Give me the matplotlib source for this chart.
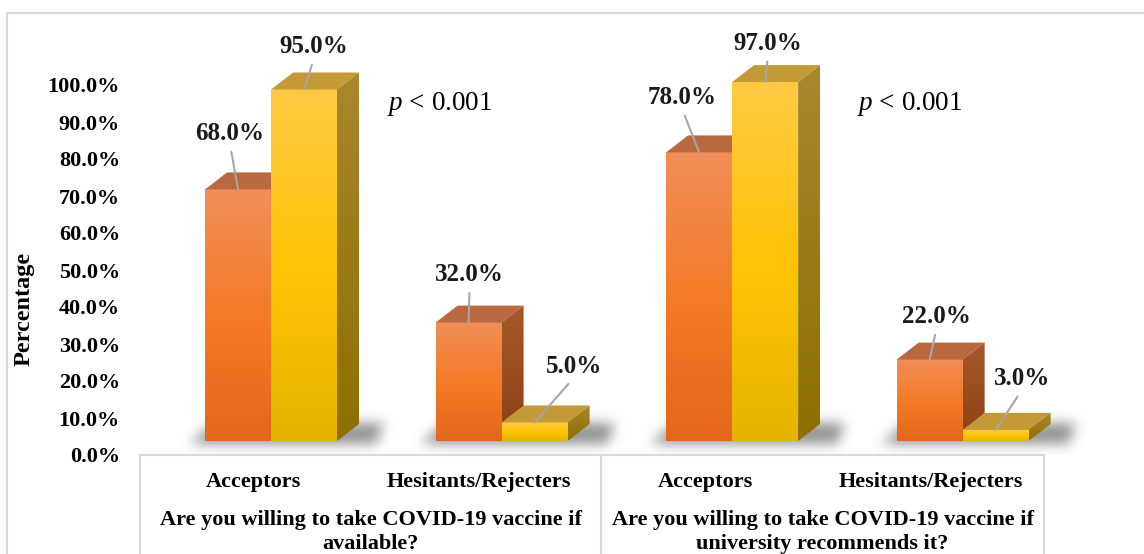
import numpy as np
import matplotlib
matplotlib.use("Agg")
import matplotlib.pyplot as plt
import matplotlib.transforms as mtransforms
from matplotlib.colors import LinearSegmentedColormap
from matplotlib.patches import Polygon, Rectangle

plt.rcParams["font.family"] = "Liberation Serif"
plt.rcParams["mathtext.fontset"] = "custom"
plt.rcParams["mathtext.it"] = "Liberation Serif:italic"
plt.rcParams["mathtext.rm"] = "Liberation Serif"

# ---- data -------------------------------------------------------------
categories = ["Acceptors", "Hesitants/Rejecters", "Acceptors", "Hesitants/Rejecters"]
questions = [
    "Are you willing to take COVID-19 vaccine if\navailable?",
    "Are you willing to take COVID-19 vaccine if\nuniversity recommends it?",
]
orange_vals = [68.0, 32.0, 78.0, 22.0]
yellow_vals = [95.0, 5.0, 97.0, 3.0]
p_text = [r"$\it{p}$ < 0.001", r"$\it{p}$ < 0.001"]
y_ticks = list(range(0, 101, 10))

# ---- layout (pixels -> data units) ------------------------------------
W, H, DPI = 1144, 554, 100
PX = 226.0          # pixels per category
PY = 3.7            # pixels per percent
BAR_W = 66 / PX
DEPTH_X = 22 / PX
DEPTH_Y = 17 / PY
FLOOR = 14 / PY
GROUP_SEPS = [-0.5, 1.54, 3.5]

# label offsets in pixels (right, down) from the bar's top edge
orange_lbl = [(-8, -56), (1, -48), (-17, -55), (7, -43)]
yellow_lbl = [(10, -43), (39, -56), (3, -39), (26, -51)]

orange_front = LinearSegmentedColormap.from_list(
    "of", [(0, "#E4661B"), (0.5, "#F47B28"), (1, "#F18E58")])
yellow_front = LinearSegmentedColormap.from_list(
    "yf", [(0, "#E6B300"), (0.5, "#FFC405"), (1, "#FFCA45")])
orange_side = LinearSegmentedColormap.from_list("os", ["#8C4013", "#A65A2C"])
yellow_side = LinearSegmentedColormap.from_list("ys", ["#8E6F00", "#A8872E"])
ORANGE_TOP = "#B9693F"
YELLOW_TOP = "#C39A36"

GRAD = np.linspace(0, 1, 256).reshape(-1, 1)


def _blur(a, sigma):
    t = np.arange(-3 * sigma, 3 * sigma + 1)
    k = np.exp(-0.5 * (t / sigma) ** 2)
    k /= k.sum()
    a = np.apply_along_axis(lambda r: np.convolve(r, k, mode="same"), 1, a)
    return np.apply_along_axis(lambda c: np.convolve(c, k, mode="same"), 0, a)


def draw_shadow(ax, x_left, x_right):
    # soft ground shadow under a pair of boxes, built on a 1px grid
    pad_l, pad_r, pad_b, pad_t = 40, 60, 25, 15
    x0 = x_left - pad_l / PX
    x1 = x_right + DEPTH_X + pad_r / PX
    y0 = FLOOR - pad_b / PY
    y1 = FLOOR + DEPTH_Y + pad_t / PY
    nx = int(round((x1 - x0) * PX))
    ny = int(round((y1 - y0) * PY))
    gx, gy = np.meshgrid(np.arange(nx), np.arange(ny))
    # footprint leans to the right going back, like a cast shadow
    lean = (gy - pad_b) * 1.2
    fx0 = pad_l - 12 + lean
    fx1 = nx - pad_r + 18 + lean * 0.3
    fy0 = pad_b - 3
    fy1 = pad_b + DEPTH_Y * PY
    mask = ((gx >= fx0) & (gx <= fx1) & (gy >= fy0) & (gy <= fy1)).astype(float)
    alpha = _blur(mask, 6) * 0.6
    rgba = np.zeros((ny, nx, 4))
    rgba[..., :3] = 0.3
    rgba[..., 3] = alpha
    ax.imshow(rgba, extent=[x0, x1, y0, y1], origin="lower", aspect="auto",
              interpolation="bilinear", zorder=1)


def draw_box(ax, x0, h, front_cmap, top_color, side_cmap, z):
    y0, y1 = FLOOR, FLOOR + h
    x1 = x0 + BAR_W
    ax.imshow(GRAD, cmap=front_cmap, extent=[x0, x1, y0, y1], origin="lower",
              aspect="auto", interpolation="bilinear", zorder=z)
    top = Polygon([(x0, y1), (x1, y1), (x1 + DEPTH_X, y1 + DEPTH_Y),
                   (x0 + DEPTH_X, y1 + DEPTH_Y)],
                  closed=True, facecolor=top_color, edgecolor="none", zorder=z)
    ax.add_patch(top)
    side = Polygon([(x1, y0), (x1 + DEPTH_X, y0 + DEPTH_Y),
                    (x1 + DEPTH_X, y1 + DEPTH_Y), (x1, y1)],
                   closed=True, facecolor="none", edgecolor="none", zorder=z)
    ax.add_patch(side)
    im = ax.imshow(GRAD, cmap=side_cmap,
                   extent=[x1, x1 + DEPTH_X, y0, y1 + DEPTH_Y], origin="lower",
                   aspect="auto", interpolation="bilinear", zorder=z)
    im.set_clip_path(side)


fig = plt.figure(figsize=(W / DPI, H / DPI), dpi=DPI)
ax = fig.add_axes([140 / W, 99 / H, 4.25 * PX / W, 435 / H])

for i in range(len(categories)):
    mid = i * 1.02 + 0.08
    draw_shadow(ax, mid - BAR_W, mid + BAR_W)
    draw_box(ax, mid - BAR_W, orange_vals[i], orange_front, ORANGE_TOP, orange_side, 3)
    draw_box(ax, mid, yellow_vals[i], yellow_front, YELLOW_TOP, yellow_side, 4)

    for val, cx, off in ((orange_vals[i], mid - BAR_W / 2, orange_lbl[i]),
                         (yellow_vals[i], mid + BAR_W / 2, yellow_lbl[i])):
        ax.annotate(f"{val:.1f}%", xy=(cx, FLOOR + val),
                    xytext=(off[0] * 0.72, -off[1] * 0.72), textcoords="offset points",
                    ha="center", va="center", fontsize=18, fontweight="bold",
                    color="#1a1a1a", zorder=6,
                    arrowprops=dict(arrowstyle="-", color="#A6A6A6", lw=1.5,
                                    shrinkA=3.0, shrinkB=0, relpos=(0.5, 0)))

# p-value notes
for j, txt in enumerate(p_text):
    ax.text(0.593 + j * 2.08, 93.2, txt, ha="left", va="baseline", fontsize=19.5,
            color="black", zorder=6)

ax.set_xlim(-0.5, 3.75)
ax.set_ylim(0, 435 / PY)
for s in ax.spines.values():
    s.set_visible(False)

ax.set_yticks(y_ticks)
ax.set_yticklabels([f"{t:.1f}%" for t in y_ticks], fontsize=16, fontweight="bold")
ax.tick_params(axis="y", length=0, pad=14.4)
ax.set_ylabel("Percentage", fontsize=17.5, fontweight="bold")
ax.yaxis.set_label_coords(-105 / (4.25 * PX), (455 - 309) / 435)

ax.set_xticks(range(len(categories)))
ax.set_xticklabels(categories, fontsize=16, fontweight="bold")
ax.tick_params(axis="x", length=0, pad=12)

# category box lines
line_kw = dict(color="#D9D9D9", lw=1.5, clip_on=False, zorder=2)
ax.plot([-0.5, 3.5], [0, 0], **line_kw)
trans = mtransforms.blended_transform_factory(ax.transData, ax.transAxes)
for xs in GROUP_SEPS:
    ax.plot([xs, xs], [0, -0.3], transform=trans, **line_kw)

for j, q in enumerate(questions):
    cx = (GROUP_SEPS[j] + GROUP_SEPS[j + 1]) / 2
    ax.text(cx, (455 - 532) / 435, q, transform=trans, ha="center", va="center",
            fontsize=16, fontweight="bold", linespacing=1.25)

# outer chart border
fig.add_artist(Rectangle((7 / W, -0.1), 1.1, (554 - 13) / H + 0.1,
                         transform=fig.transFigure, fill=False,
                         edgecolor="#D9D9D9", lw=1.5))

fig.savefig("out.png", dpi=DPI)
